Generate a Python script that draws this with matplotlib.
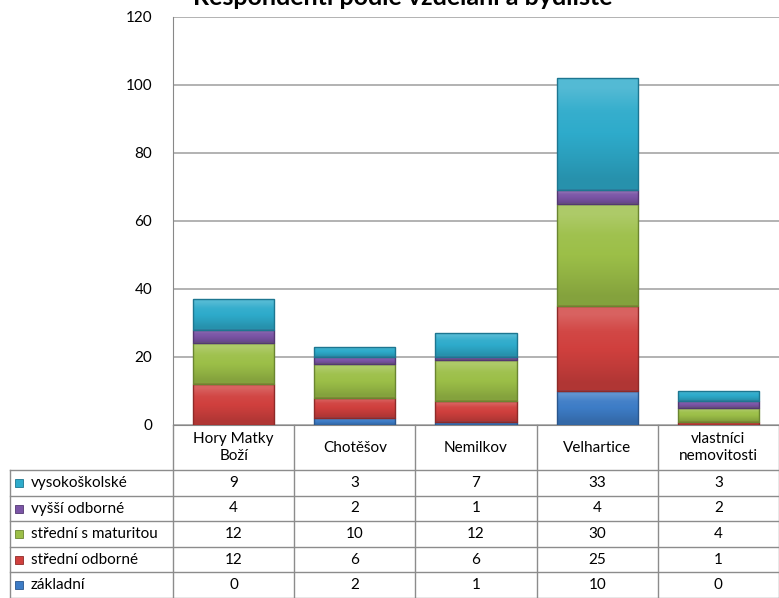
import matplotlib.pyplot as plt
import matplotlib.colors as mcolors
import numpy as np

# data
places = ["Hory Matky\nBoží", "Chotěšov", "Nemilkov", "Velhartice",
          "vlastníci\nnemovitosti"]
levels = ["vysokoškolské", "vyšší odborné", "střední s maturitou",
          "střední odborné", "základní"]
vysokoskolske = [9, 3, 7, 33, 3]
vyssi_odborne = [4, 2, 1, 4, 2]
stredni_maturita = [12, 10, 12, 30, 4]
stredni_odborne = [12, 6, 6, 25, 1]
zakladni = [0, 2, 1, 10, 0]
y_ticks = [0, 20, 40, 60, 80, 100, 120]

colors = {"základní": "#3D7CC6", "střední odborné": "#D0403E",
          "střední s maturitou": "#9CBF48", "vyšší odborné": "#7B55A6",
          "vysokoškolské": "#2EABCB"}
edges = {"základní": "#2A568C", "střední odborné": "#8E2A28",
         "střední s maturitou": "#6A8530", "vyšší odborné": "#533872",
         "vysokoškolské": "#1D7690"}

plt.rcParams['font.family'] = ['Lato', 'DejaVu Sans']

W, H = 779, 598
fig = plt.figure(figsize=(W / 100, H / 100), dpi=100)

# pixel geometry
left, right, top, bottom = 173, 779, 17, 425
ax = fig.add_axes([left / W, 1 - bottom / H, (right - left) / W,
                   (bottom - top) / H])

x = np.arange(len(places))
series = {"vysokoškolské": vysokoskolske, "vyšší odborné": vyssi_odborne,
          "střední s maturitou": stredni_maturita,
          "střední odborné": stredni_odborne, "základní": zakladni}


def shade(c, f):
    # f > 0 lighter, f < 0 darker
    rgb = np.array(mcolors.to_rgb(c))
    if f > 0:
        return rgb + (1 - rgb) * f
    return rgb * (1 + f)


base = np.zeros(len(places))
for name in ["základní", "střední odborné", "střední s maturitou",
             "vyšší odborné", "vysokoškolské"]:
    vals = np.array(series[name], dtype=float)
    bars = ax.bar(x, vals, 0.67, bottom=base, color=colors[name],
                  edgecolor=edges[name], linewidth=1.0, zorder=3)
    # soft bevel-ish gradient inside each segment
    grad = np.array([shade(colors[name], 0.18), shade(colors[name], 0.04),
                     shade(colors[name], 0.0), shade(colors[name], -0.07),
                     shade(colors[name], -0.15)])
    img = grad.reshape(5, 1, 3)
    for b in bars:
        if b.get_height() <= 0:
            continue
        x0, y0 = b.get_x(), b.get_y()
        im = ax.imshow(img, extent=(x0, x0 + b.get_width(), y0,
                                    y0 + b.get_height()),
                       aspect="auto", interpolation="bilinear", origin="upper",
                       zorder=3.5)
        im.set_clip_path(b)
        b.set_zorder(4)
        b.set_facecolor("none")
    base += vals

ax.set_xlim(-0.5, len(places) - 0.5)
ax.set_ylim(0, 120)
ax.set_yticks(y_ticks)
ax.tick_params(axis='y', labelsize=11, length=0, pad=15)
ax.set_xticks([])
ax.yaxis.grid(True, color="#A6A6A6", linewidth=1.2, zorder=0)
for s in ["top", "right"]:
    ax.spines[s].set_visible(False)
ax.spines["left"].set_color("#888888")
ax.spines["bottom"].set_color("#888888")

fig.text(403 / W, 1 - 5 / H, "Respondenti podle vzdělání a bydliště",
         ha="center", va="baseline", fontsize=18, fontweight="bold")

# data table underneath, drawn in pixel coordinates
tab = fig.add_axes([0, 0, 1, 1])
tab.set_xlim(0, W)
tab.set_ylim(H, 0)
tab.axis("off")
col_w = (right - left) / 5
col_edges = [left + i * col_w for i in range(6)]
row_edges = [470, 496, 521, 547, 572, 598]
lc = "#8C8C8C"
for cx in col_edges:
    tab.plot([cx, cx], [bottom, H], color=lc, lw=1)
tab.plot([10, 10], [470, H], color=lc, lw=1)
for ry in row_edges:
    tab.plot([10, W], [ry, ry], color=lc, lw=1)

for i, p in enumerate(places):
    tab.text(left + (i + 0.5) * col_w, (bottom + 470) / 2, p, ha="center",
             va="center", fontsize=11, linespacing=1.25)

for r, name in enumerate(levels):
    yc = (row_edges[r] + row_edges[r + 1]) / 2
    tab.add_patch(plt.Rectangle((15, yc - 4), 8, 8, facecolor=colors[name],
                                edgecolor=edges[name], lw=0.6))
    tab.text(31, yc, name, ha="left", va="center", fontsize=11)
    for i, v in enumerate(series[name]):
        tab.text(left + (i + 0.5) * col_w, yc, str(v), ha="center",
                 va="center", fontsize=11)

fig.savefig("out.png", dpi=100)
